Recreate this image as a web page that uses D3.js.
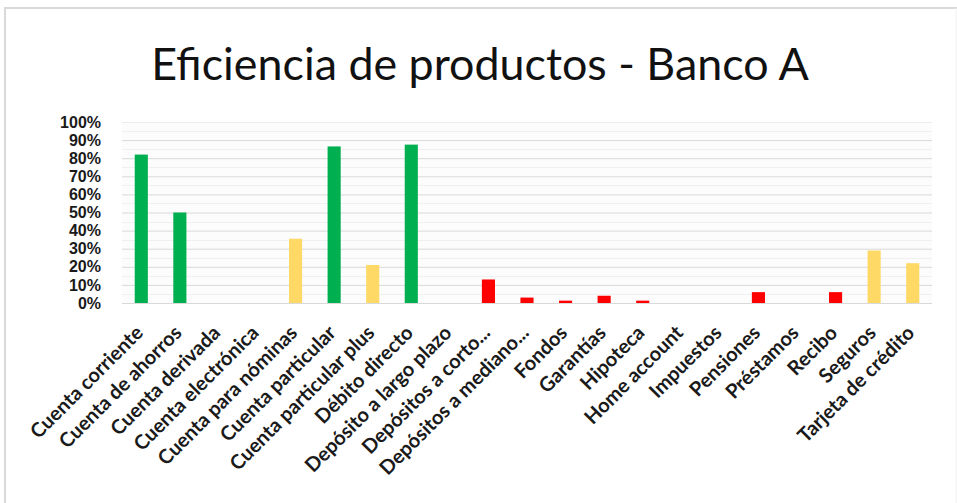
<!DOCTYPE html>
<html><head><meta charset="utf-8">
<script src="https://cdn.jsdelivr.net/npm/d3@7"></script>
<style>body{margin:0;background:#fff}svg{display:block}</style>
</head><body>
<svg id="c" width="957" height="503"></svg>
<script>
const categories = ["Cuenta corriente","Cuenta de ahorros","Cuenta derivada","Cuenta electrónica","Cuenta para nóminas","Cuenta particular","Cuenta particular plus","Débito directo","Depósito a largo plazo","Depósitos a corto...","Depósitos a mediano...","Fondos","Garantías","Hipoteca","Home account","Impuestos","Pensiones","Préstamos","Recibo","Seguros","Tarjeta de crédito"];
const values = [0.82,0.50,0,0,0.355,0.865,0.21,0.875,0,0.13,0.03,0.013,0.04,0.013,0,0,0.06,0,0.06,0.29,0.22];
const statusLevel = ["high","high","low","low","mid","high","mid","high","low","low","low","low","low","low","low","low","low","low","low","mid","mid"];
const yTicks = [0,0.1,0.2,0.3,0.4,0.5,0.6,0.7,0.8,0.9,1.0];
const title = "Eficiencia de productos - Banco A";

const colors = {high:"#00B050", mid:"#FFD966", low:"#FF0000"};
const svg = d3.select("#c");
const m = {left:122, top:122};
const plotR = 932, plotB = 303;

// frame
svg.append("line").attr("x1",4).attr("x2",957).attr("y1",8).attr("y2",8).attr("stroke","#d9d9d9").attr("stroke-width",2);
svg.append("line").attr("x1",5).attr("x2",5).attr("y1",8).attr("y2",503).attr("stroke","#d9d9d9").attr("stroke-width",2);
svg.append("line").attr("x1",956).attr("x2",956).attr("y1",8).attr("y2",503).attr("stroke","#f0f0f0").attr("stroke-width",1);

const x = d3.scaleBand().domain(categories).range([m.left, plotR]).paddingInner(0.66).paddingOuter(0.33);
const y = d3.scaleLinear().domain([0,1]).range([plotB, m.top]);

// plot background
svg.append("rect").attr("x",m.left).attr("y",m.top).attr("width",plotR-m.left).attr("height",plotB-m.top).attr("fill","#fcfcfc");

// minor grid
const minor = d3.range(0.05,1,0.1);
svg.append("g").selectAll("line").data(minor).join("line")
  .attr("x1",m.left).attr("x2",plotR).attr("y1",d=>Math.round(y(d))+0.5).attr("y2",d=>Math.round(y(d))+0.5)
  .attr("stroke","#f0f0f0");

// y axis with gridlines
const yAxis = d3.axisLeft(y).tickValues(yTicks).tickFormat(d3.format(".0%")).tickSize(-(plotR-m.left)).tickPadding(21);
const gy = svg.append("g").attr("transform",`translate(${m.left},0)`).call(yAxis);
gy.select(".domain").remove();
gy.selectAll(".tick line").attr("stroke",d=>d===1?"#ececec":"#d9d9d9");
gy.selectAll(".tick text").attr("font-family","'Liberation Sans', Arial, sans-serif").attr("font-weight","bold").attr("font-size",16).attr("fill","#1a1a1a");

// bars
svg.append("g").selectAll("rect").data(categories).join("rect")
  .attr("x",d=>x(d)).attr("width",x.bandwidth())
  .attr("y",(d,i)=>y(values[i])).attr("height",(d,i)=>plotB-y(values[i]))
  .attr("fill",(d,i)=>colors[statusLevel[i]]);

// x labels
svg.append("g").selectAll("text").data(categories).join("text")
  .attr("transform",d=>`translate(${x(d)+x.bandwidth()/2+3},${plotB+31}) rotate(-45)`)
  .attr("text-anchor","end")
  .attr("font-family","Lato, 'Open Sans', sans-serif").attr("font-size",20).attr("font-weight","bold").attr("fill","#1a1a1a")
  .text(d=>d);

// title
svg.append("text").attr("x",480).attr("y",80).attr("text-anchor","middle")
  .attr("font-family","Lato, 'Open Sans', sans-serif").attr("font-size",44.8).attr("fill","#111")
  .text(title);
</script>
</body></html>
